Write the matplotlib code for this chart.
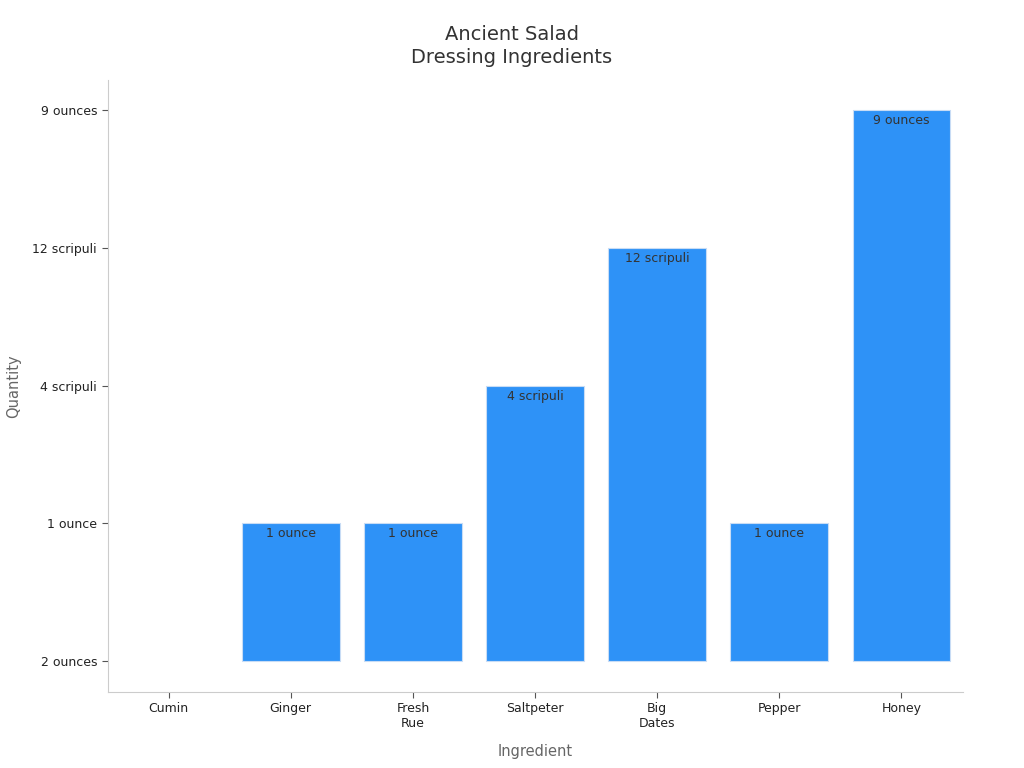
import matplotlib.pyplot as plt

# Data
ingredients = ['Cumin', 'Ginger', 'Fresh\nRue', 'Saltpeter', 'Big\nDates', 'Pepper', 'Honey']
quantities = ['2 ounces', '1 ounce', '1 ounce', '4 scripuli', '12 scripuli', '1 ounce', '9 ounces']
# order of the categorical y axis, bottom to top
quantity_levels = ['2 ounces', '1 ounce', '4 scripuli', '12 scripuli', '9 ounces']

heights = [quantity_levels.index(q) for q in quantities]
x = list(range(len(ingredients)))

fig = plt.figure(figsize=(10.24, 7.68), dpi=100)
ax = fig.add_axes([0.105, 0.099, 0.835, 0.797])

edge_widths = [0.8 if h > 0 else 0 for h in heights]
bars = ax.bar(x, heights, width=0.8, color='#2E92F7', edgecolor='#c8dcf5', linewidth=edge_widths)

for xi, h, q in zip(x, heights, quantities):
    if h > 0:
        ax.text(xi, h - 0.03, q, ha='center', va='top', fontsize=9, color='#333333')

ax.set_xlim(-0.5, 6.5)
ax.set_ylim(-0.225, 4.22)
ax.set_xticks(x)
ax.set_xticklabels(ingredients, fontsize=9, color='#222222')
ax.set_yticks(range(len(quantity_levels)))
ax.set_yticklabels(quantity_levels, fontsize=9, color='#222222')

for s in ['top', 'right']:
    ax.spines[s].set_visible(False)
for s in ['left', 'bottom']:
    ax.spines[s].set_color('#cccccc')
ax.tick_params(axis='both', length=4, color='#555555', width=0.8)

ax.set_xlabel('Ingredient', fontsize=10.5, color='#666666', labelpad=10)
ax.set_ylabel('Quantity', fontsize=10.5, color='#666666', labelpad=8)
fig.text(0.5, 0.94, 'Ancient Salad\nDressing Ingredients', ha='center', va='center',
         fontsize=14, color='#333333', linespacing=1.3)

fig.savefig('out.png', dpi=100)
